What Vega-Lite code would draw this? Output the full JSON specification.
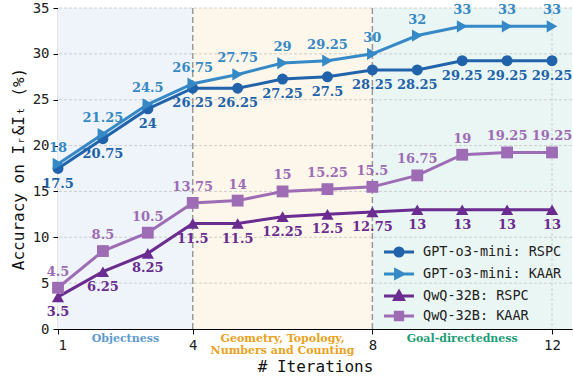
{
  "$schema": "https://vega.github.io/schema/vega-lite/v6.json",
  "width": 514,
  "height": 321,
  "autosize": "none",
  "padding": {"left": 58, "top": 8, "right": 1, "bottom": 51},
  "background": "white",
  "config": {
    "view": {"stroke": null},
    "axis": {
      "domainColor": "#000000",
      "domainWidth": 1.2,
      "tickColor": "#000000",
      "tickSize": 5,
      "tickWidth": 1,
      "labelFont": "DejaVu Sans Mono",
      "labelFontSize": 14,
      "labelColor": "#222222",
      "titleFont": "DejaVu Sans Mono",
      "titleFontSize": 16,
      "titleFontWeight": "normal",
      "titleColor": "#111111",
      "grid": false,
      "zindex": 1
    },
    "legend": {
      "title": null, "orient": "none", "legendX": 331, "legendY": 234, "padding": 0,
      "labelFont": "DejaVu Sans Mono", "labelFontSize": 13.5, "labelColor": "#222222",
      "symbolSize": 266, "symbolStrokeWidth": 3, "labelOffset": 14, "rowPadding": 0,
      "symbolOpacity": 1
    }
  },
  "datasets": {
    "acc": [
      {"iter": 1, "acc": 17.5, "series": "GPT-o3-mini: RSPC"},
      {"iter": 2, "acc": 20.75, "series": "GPT-o3-mini: RSPC"},
      {"iter": 3, "acc": 24, "series": "GPT-o3-mini: RSPC"},
      {"iter": 4, "acc": 26.25, "series": "GPT-o3-mini: RSPC"},
      {"iter": 5, "acc": 26.25, "series": "GPT-o3-mini: RSPC"},
      {"iter": 6, "acc": 27.25, "series": "GPT-o3-mini: RSPC"},
      {"iter": 7, "acc": 27.5, "series": "GPT-o3-mini: RSPC"},
      {"iter": 8, "acc": 28.25, "series": "GPT-o3-mini: RSPC"},
      {"iter": 9, "acc": 28.25, "series": "GPT-o3-mini: RSPC"},
      {"iter": 10, "acc": 29.25, "series": "GPT-o3-mini: RSPC"},
      {"iter": 11, "acc": 29.25, "series": "GPT-o3-mini: RSPC"},
      {"iter": 12, "acc": 29.25, "series": "GPT-o3-mini: RSPC"},
      {"iter": 1, "acc": 18, "series": "GPT-o3-mini: KAAR"},
      {"iter": 2, "acc": 21.25, "series": "GPT-o3-mini: KAAR"},
      {"iter": 3, "acc": 24.5, "series": "GPT-o3-mini: KAAR"},
      {"iter": 4, "acc": 26.75, "series": "GPT-o3-mini: KAAR"},
      {"iter": 5, "acc": 27.75, "series": "GPT-o3-mini: KAAR"},
      {"iter": 6, "acc": 29, "series": "GPT-o3-mini: KAAR"},
      {"iter": 7, "acc": 29.25, "series": "GPT-o3-mini: KAAR"},
      {"iter": 8, "acc": 30, "series": "GPT-o3-mini: KAAR"},
      {"iter": 9, "acc": 32, "series": "GPT-o3-mini: KAAR"},
      {"iter": 10, "acc": 33, "series": "GPT-o3-mini: KAAR"},
      {"iter": 11, "acc": 33, "series": "GPT-o3-mini: KAAR"},
      {"iter": 12, "acc": 33, "series": "GPT-o3-mini: KAAR"},
      {"iter": 1, "acc": 3.5, "series": "QwQ-32B: RSPC"},
      {"iter": 2, "acc": 6.25, "series": "QwQ-32B: RSPC"},
      {"iter": 3, "acc": 8.25, "series": "QwQ-32B: RSPC"},
      {"iter": 4, "acc": 11.5, "series": "QwQ-32B: RSPC"},
      {"iter": 5, "acc": 11.5, "series": "QwQ-32B: RSPC"},
      {"iter": 6, "acc": 12.25, "series": "QwQ-32B: RSPC"},
      {"iter": 7, "acc": 12.5, "series": "QwQ-32B: RSPC"},
      {"iter": 8, "acc": 12.75, "series": "QwQ-32B: RSPC"},
      {"iter": 9, "acc": 13, "series": "QwQ-32B: RSPC"},
      {"iter": 10, "acc": 13, "series": "QwQ-32B: RSPC"},
      {"iter": 11, "acc": 13, "series": "QwQ-32B: RSPC"},
      {"iter": 12, "acc": 13, "series": "QwQ-32B: RSPC"},
      {"iter": 1, "acc": 4.5, "series": "QwQ-32B: KAAR"},
      {"iter": 2, "acc": 8.5, "series": "QwQ-32B: KAAR"},
      {"iter": 3, "acc": 10.5, "series": "QwQ-32B: KAAR"},
      {"iter": 4, "acc": 13.75, "series": "QwQ-32B: KAAR"},
      {"iter": 5, "acc": 14, "series": "QwQ-32B: KAAR"},
      {"iter": 6, "acc": 15, "series": "QwQ-32B: KAAR"},
      {"iter": 7, "acc": 15.25, "series": "QwQ-32B: KAAR"},
      {"iter": 8, "acc": 15.5, "series": "QwQ-32B: KAAR"},
      {"iter": 9, "acc": 16.75, "series": "QwQ-32B: KAAR"},
      {"iter": 10, "acc": 19, "series": "QwQ-32B: KAAR"},
      {"iter": 11, "acc": 19.25, "series": "QwQ-32B: KAAR"},
      {"iter": 12, "acc": 19.25, "series": "QwQ-32B: KAAR"}
    ],
    "regions": [
      {"region": "Objectness", "start": 1, "end": 4, "mid": 2.5, "label": "Objectness"},
      {"region": "Geometry", "start": 4, "end": 8, "mid": 6, "label": "Geometry, Topology,\nNumbers and Counting"},
      {"region": "Goal", "start": 8, "end": 12.445, "mid": 10, "label": "Goal-directedness"}
    ],
    "gridy": [{"g": 5}, {"g": 10}, {"g": 15}, {"g": 20}, {"g": 25}, {"g": 30}, {"g": 35}],
    "gridx": [{"g": 12}],
    "seps": [{"g": 4}, {"g": 8}]
  },
  "layer": [
    {
      "data": {"name": "regions"},
      "mark": {"type": "rect"},
      "encoding": {
        "x": {"field": "start", "type": "quantitative", "scale": {"domain": [1, 12.445], "nice": false, "zero": false},
          "axis": {"values": [1, 4, 8, 12], "title": "# Iterations", "labelPadding": 4, "titlePadding": 6}},
        "x2": {"field": "end"},
        "fill": {"field": "region", "type": "nominal", "scale": {"domain": ["Objectness", "Geometry", "Goal"], "range": ["#eef4f9", "#fdf6ea", "#eaf6f3"]}, "legend": null}
      }
    },
    {
      "data": {"name": "gridy"},
      "mark": {"type": "rule", "color": "#c4c4c4", "strokeDash": [3, 2], "strokeWidth": 0.8},
      "encoding": {"y": {"field": "g", "type": "quantitative", "scale": {"domain": [0, 35], "nice": false},
        "axis": {"values": [0, 5, 10, 15, 20, 25, 30, 35], "title": "Accuracy on Iᵣ&Iₜ (%)", "labelPadding": 4, "titlePadding": 6}}}
    },
    {
      "data": {"name": "gridx"},
      "mark": {"type": "rule", "color": "#c4c4c4", "strokeDash": [3, 2], "strokeWidth": 0.8},
      "encoding": {"x": {"field": "g", "type": "quantitative"}}
    },
    {
      "data": {"name": "seps"},
      "mark": {"type": "rule", "color": "#9a9a9a", "strokeDash": [6, 3], "strokeWidth": 1.5},
      "encoding": {"x": {"field": "g", "type": "quantitative"}}
    },
    {
      "data": {"name": "acc"},
      "mark": {"type": "line", "strokeWidth": 3},
      "encoding": {
        "x": {"field": "iter", "type": "quantitative"},
        "y": {"field": "acc", "type": "quantitative"},
        "color": {"field": "series", "type": "nominal",
          "scale": {"domain": ["GPT-o3-mini: RSPC", "GPT-o3-mini: KAAR", "QwQ-32B: RSPC", "QwQ-32B: KAAR"], "range": ["#2163aa", "#3589c6", "#6a2c90", "#9d6cb5"]}}
      }
    },
    {
      "data": {"name": "acc"},
      "transform": [{"filter": "datum.series === 'GPT-o3-mini: RSPC'"}],
      "mark": {"type": "point", "filled": true, "size": 120, "opacity": 1, "shape": "circle"},
      "encoding": {
        "x": {"field": "iter", "type": "quantitative"},
        "y": {"field": "acc", "type": "quantitative"},
        "color": {"field": "series", "type": "nominal"}
      }
    },
    {
      "data": {"name": "acc"},
      "transform": [{"filter": "datum.series === 'GPT-o3-mini: KAAR'"}],
      "mark": {"type": "point", "filled": true, "size": 150, "opacity": 1, "shape": "triangle-right"},
      "encoding": {
        "x": {"field": "iter", "type": "quantitative"},
        "y": {"field": "acc", "type": "quantitative"},
        "color": {"field": "series", "type": "nominal"}
      }
    },
    {
      "data": {"name": "acc"},
      "transform": [{"filter": "datum.series === 'QwQ-32B: RSPC'"}],
      "mark": {"type": "point", "filled": true, "size": 150, "opacity": 1, "shape": "triangle-up"},
      "encoding": {
        "x": {"field": "iter", "type": "quantitative"},
        "y": {"field": "acc", "type": "quantitative"},
        "color": {"field": "series", "type": "nominal"}
      }
    },
    {
      "data": {"name": "acc"},
      "transform": [{"filter": "datum.series === 'QwQ-32B: KAAR'"}],
      "mark": {"type": "point", "filled": true, "size": 140, "opacity": 1, "shape": "square"},
      "encoding": {
        "x": {"field": "iter", "type": "quantitative"},
        "y": {"field": "acc", "type": "quantitative"},
        "color": {"field": "series", "type": "nominal"}
      }
    },
    {
      "data": {"name": "acc"},
      "mark": {"type": "point", "filled": true, "opacity": 0},
      "encoding": {
        "x": {"field": "iter", "type": "quantitative"},
        "y": {"field": "acc", "type": "quantitative"},
        "color": {"field": "series", "type": "nominal"},
        "shape": {"field": "series", "type": "nominal",
          "scale": {"domain": ["GPT-o3-mini: RSPC", "GPT-o3-mini: KAAR", "QwQ-32B: RSPC", "QwQ-32B: KAAR"],
            "range": [
              "M-1.84,0H1.84M0.5,0A0.5,0.5,0,1,1,-0.5,0A0.5,0.5,0,1,1,0.5,0Z",
              "M-1.84,0H1.84M-0.42,-0.5L0.54,0L-0.42,0.5Z",
              "M-1.84,0H1.84M0,-0.54L0.54,0.42L-0.54,0.42Z",
              "M-1.84,0H1.84M-0.45,-0.45H0.45V0.45H-0.45Z"
            ]}}
      }
    },
    {
      "data": {"name": "acc"},
      "transform": [{"filter": "indexof(datum.series, 'KAAR') >= 0"}],
      "mark": {"type": "text", "font": "DejaVu Serif", "fontWeight": "bold", "fontSize": 13, "dy": -16, "baseline": "middle"},
      "encoding": {
        "x": {"field": "iter", "type": "quantitative"},
        "y": {"field": "acc", "type": "quantitative"},
        "text": {"field": "acc", "type": "nominal"},
        "color": {"field": "series", "type": "nominal"}
      }
    },
    {
      "data": {"name": "acc"},
      "transform": [{"filter": "indexof(datum.series, 'RSPC') >= 0"}],
      "mark": {"type": "text", "font": "DejaVu Serif", "fontWeight": "bold", "fontSize": 13, "dy": 15, "baseline": "middle"},
      "encoding": {
        "x": {"field": "iter", "type": "quantitative"},
        "y": {"field": "acc", "type": "quantitative"},
        "text": {"field": "acc", "type": "nominal"},
        "color": {"field": "series", "type": "nominal"}
      }
    },
    {
      "data": {"name": "regions"},
      "mark": {"type": "text", "font": "DejaVu Serif", "fontWeight": "bold", "fontSize": 11, "baseline": "top", "lineBreak": "\n", "lineHeight": 12},
      "encoding": {
        "x": {"field": "mid", "type": "quantitative"},
        "y": {"datum": -0.45, "type": "quantitative"},
        "text": {"field": "label"},
        "fill": {"field": "region", "type": "nominal", "scale": {"domain": ["Objectness", "Geometry", "Goal"], "range": ["#5e9bd1", "#eaa21c", "#1b9e77"]}, "legend": null}
      }
    }
  ],
  "resolve": {"scale": {"fill": "independent"}}
}
